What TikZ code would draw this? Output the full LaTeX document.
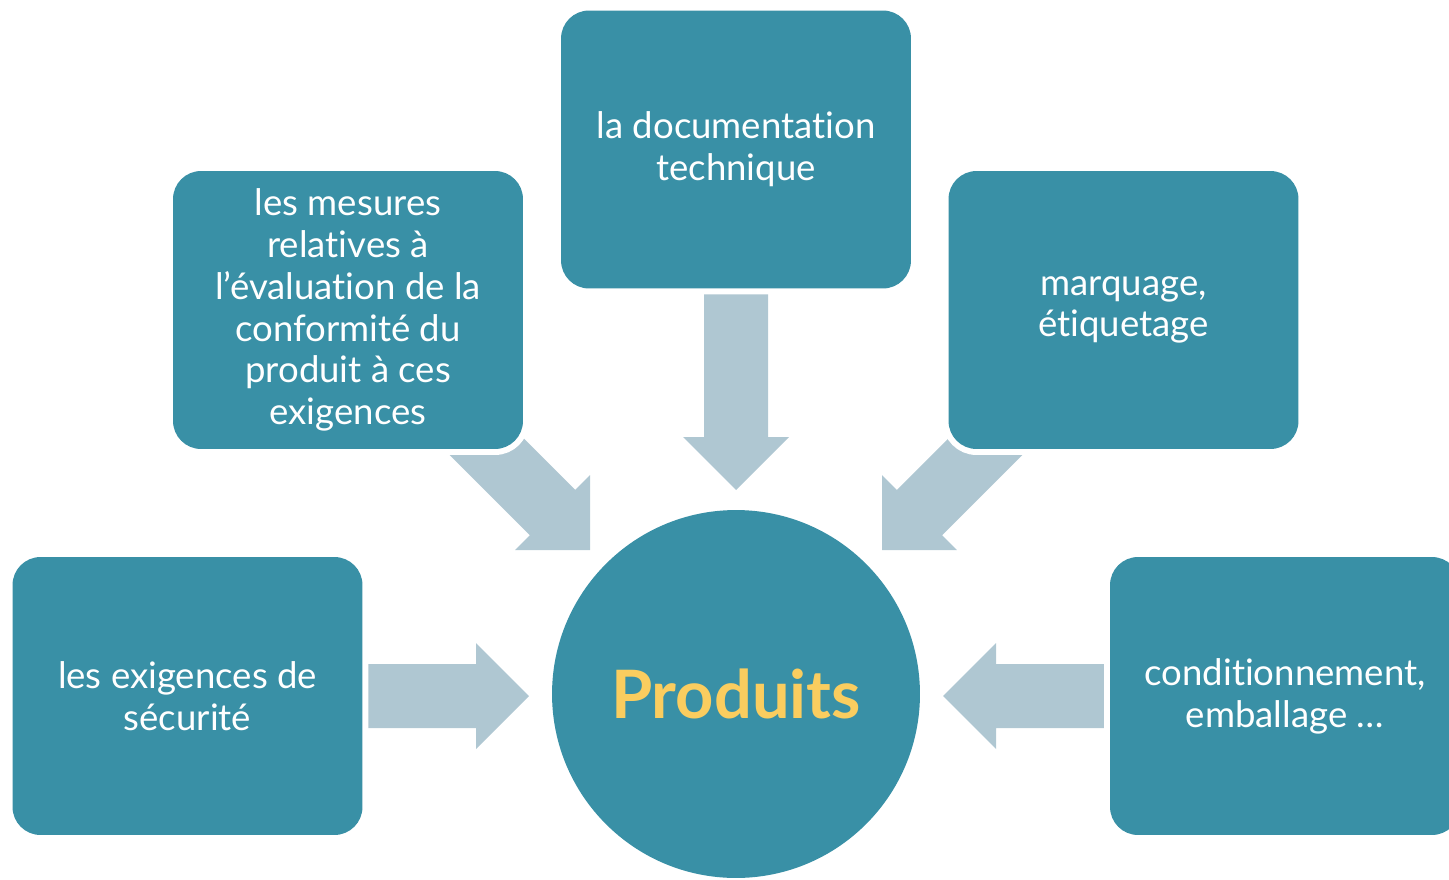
\documentclass[tikz,border=0pt]{standalone}
\usepackage{fontspec}
\setmainfont{Lato}[Ligatures=NoCommon]
\definecolor{boxteal}{RGB}{57,144,166}
\definecolor{arrowc}{RGB}{175,199,210}
\definecolor{gold}{RGB}{250,205,95}
\newcommand\blockarrow[3]{%
  \fill[arrowc, shift={(#1)}, rotate=#2] (0,0) -- (-53,53) -- (-53,32) -- (-#3,32) -- (-#3,-32) -- (-53,-32) -- (-53,-53) -- cycle;}
\begin{document}
\begin{tikzpicture}[x=0.02cm,y=-0.02cm,
  box/.style={fill=boxteal, rounded corners=0.56cm, minimum width=7cm, minimum height=5.56cm,
    inner sep=0pt, text=white, align=center, font=\fontsize{20.8}{23.8}\selectfont,
    preaction={draw=white, line width=0.24cm}},
  hub/.style={circle, fill=boxteal, minimum size=7.36cm, inner sep=0pt, text=gold,
    font=\fontsize{38}{44}\selectfont\bfseries}]
\path[use as bounding box] (0,0) rectangle (1449,879);
% arrow tips
\coordinate (tipL) at (529,696);
\coordinate (tipR) at (943,696);
\coordinate (tipT) at (736,490);
\coordinate (tipTL) at (590,550);
\coordinate (tipTR) at (882,550);
\blockarrow{tipL}{0}{162}
\blockarrow{tipR}{180}{161}
\blockarrow{tipT}{-90}{197}
\blockarrow{tipTL}{-45}{200}
\blockarrow{tipTR}{-135}{200}
% boxes
\node[box] (sec) at (187.5,696) {les exigences de\\sécurité};
\node[box] (eval) at (348,310) {les mesures\\relatives à\\l’évaluation de la\\conformité du\\produit à ces\\exigences};
\node[box] (doc) at (736,149.5) {la documentation\\technique};
\node[box] (mark) at (1123.5,310) {marquage,\\étiquetage};
\node[box] (cond) at (1285,696) {conditionnement,\\emballage …};
\node[hub] (prod) at (736,694) {Produits};
\end{tikzpicture}
\end{document}
